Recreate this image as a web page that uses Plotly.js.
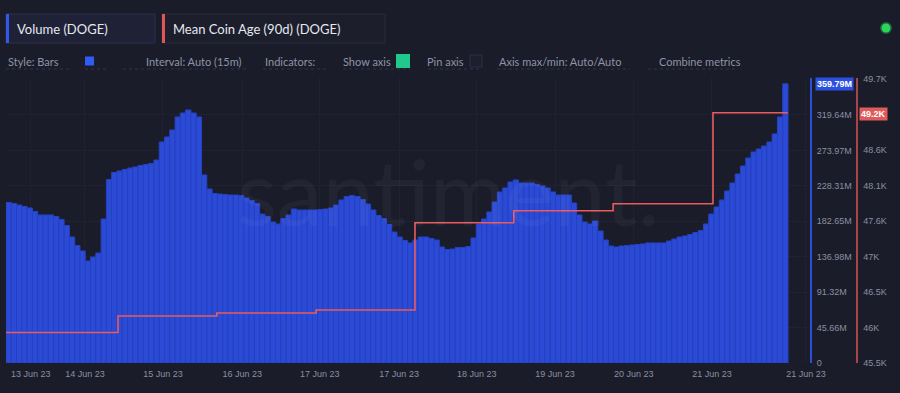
<!DOCTYPE html>
<html>
<head>
<meta charset="utf-8">
<script src="https://cdn.plot.ly/plotly-3.0.1.min.js"></script>
<style>
  html, body { margin: 0; padding: 0; background: #1b1c29; }
  #chart { width: 900px; height: 393px; }
</style>
</head>
<body>
<div id="chart"></div>
<script>
// ---- DATA ----
// Volume (DOGE), in millions, one bar per interval (left to right)
const volumeM = [
  206.9, 205.6, 203.6, 201.7, 199.8, 195.3, 190.8, 190.8, 190.8, 188.8,
  185.0, 177.2, 162.4, 151.4, 144.4, 131.5, 136.6, 141.8, 185.6, 236.5,
  245.5, 247.5, 249.4, 251.3, 252.6, 254.6, 255.8, 257.1, 261.6, 284.8,
  291.3, 300.3, 317.1, 322.2, 326.1, 322.2, 317.1, 242.3, 224.3, 218.5,
  217.8, 217.2, 216.5, 216.5, 215.9, 212.7, 209.4, 205.6, 192.0, 188.8,
  181.7, 179.2, 186.2, 190.8, 198.5, 197.2, 197.2, 197.2, 197.2, 197.8,
  198.5, 199.8, 203.6, 210.1, 214.6, 215.9, 214.6, 210.7, 204.9, 197.2,
  190.1, 186.2, 178.5, 168.8, 162.4, 157.9, 154.7, 158.5, 162.4, 162.4,
  160.5, 158.5, 149.5, 146.3, 146.9, 148.9, 148.9, 150.2, 161.1, 179.2,
  185.6, 194.6, 207.5, 220.4, 225.6, 233.3, 235.9, 232.0, 232.0, 232.0,
  230.1, 228.1, 225.6, 220.4, 216.5, 216.5, 216.5, 206.2, 190.8, 181.7,
  179.2, 183.0, 170.1, 158.5, 150.8, 149.5, 150.8, 151.4, 152.1, 152.7,
  153.4, 154.7, 154.7, 154.7, 154.7, 157.2, 159.8, 162.4, 163.7, 165.6,
  168.2, 170.8, 179.2, 192.0, 201.1, 210.1, 221.7, 232.0, 243.6, 253.9,
  264.2, 272.0, 275.8, 279.7, 284.8, 295.2, 317.1, 359.79
];
// Mean Coin Age (90d) (DOGE), in thousands; step changes at these interval positions
const coinAgeAt = [-0.5, 20.7, 39.4, 58.2, 76.9, 95.6, 114.4, 133.3, 147.5];
const coinAgeK  = [45.95, 46.195, 46.24, 46.284, 47.575, 47.752, 47.856, 49.2, 49.2];

// x tick labels (positions in interval units)
const xTickPos  = [4.2, 14.45, 29.2, 44.2, 58.9, 73.9, 88.6, 103.4, 118.3, 133.1, 150.9];
const xTickText = ['13 Jun 23','14 Jun 23','15 Jun 23','16 Jun 23','17 Jun 23','17 Jun 23',
                   '18 Jun 23','19 Jun 23','20 Jun 23','21 Jun 23','21 Jun 23'];
// left value axis (volume); the top tick sits under the last-value badge
const volTickVals = [0, 45.66, 91.32, 136.98, 182.65, 228.31, 273.97, 319.64];
const volTickText = ['0','45.66M','91.32M','136.98M','182.65M','228.31M','273.97M','319.64M'];
// right value axis (coin age); the 49.2K tick is covered by the last-value badge
const ageTickVals = [45.5, 46.025, 46.55, 47.075, 47.6, 48.125, 48.65, 49.7];
const ageTickText = ['45.5K','46K','46.5K','47K','47.6K','48.1K','48.6K','49.7K'];

const lastVolumeLabel = '359.79M';
const lastAgeLabel = '49.2K';

// ---- LAYOUT HELPERS (pixel -> paper) ----
const W = 900, H = 393;
const X = px => px / W;
const Y = py => 1 - py / H;

const bg = '#1b1c29';
const tickColor = '#8a8fa3';
const hdrFont = 'Lato, "Open Sans", sans-serif';
const axFont = '"Liberation Sans", Arial, sans-serif';

const traces = [
  {
    type: 'bar',
    x: volumeM.map((_, i) => i),
    y: volumeM,
    marker: { color: '#2b4ad6', line: { color: '#2542c2', width: 1 } },
    hoverinfo: 'skip',
    yaxis: 'y'
  },
  {
    type: 'scatter',
    mode: 'lines',
    x: coinAgeAt,
    y: coinAgeK,
    line: { color: '#ea5b5f', width: 1.6, shape: 'hv' },
    hoverinfo: 'skip',
    yaxis: 'y2'
  }
];

const annotations = [
  // watermark
  { text: 'santiment.', x: X(448), y: Y(190), xanchor: 'center', yanchor: 'middle',
    font: { family: hdrFont, size: 92, color: 'rgba(255,255,255,0.04)' } },
  // legend boxes text
  { text: 'Volume (DOGE)', x: X(15), y: Y(29), xanchor: 'left', yanchor: 'middle',
    font: { family: hdrFont, size: 13, color: '#e6e8f0' } },
  { text: 'Mean Coin Age (90d) (DOGE)', x: X(171), y: Y(29), xanchor: 'left', yanchor: 'middle',
    font: { family: hdrFont, size: 13, color: '#e6e8f0' } },
  // settings row
  ...[
    ['Style: Bars', 6], ['Interval: Auto (15m)', 144], ['Indicators:', 263], ['Show axis', 341],
    ['Pin axis', 425], ['Axis max/min: Auto/Auto', 497], ['Combine metrics', 657]
  ].map(([t, px]) => ({ text: t, x: X(px), y: Y(61), xanchor: 'left', yanchor: 'middle',
    font: { family: hdrFont, size: 11, color: '#8e93a8' } })),
  // last value badges
  { text: '<b>' + lastVolumeLabel + '</b>', x: X(834), y: Y(83.5), xanchor: 'center', yanchor: 'middle',
    bgcolor: '#2b50df', borderpad: 1, font: { family: axFont, size: 9, color: '#ffffff' } },
  { text: '<b>' + lastAgeLabel + '</b>', x: X(873.5), y: Y(114), xanchor: 'center', yanchor: 'middle',
    bgcolor: '#e05a5c', borderpad: 1, font: { family: axFont, size: 9, color: '#ffffff' } }
].map(a => Object.assign({ xref: 'paper', yref: 'paper', showarrow: false }, a));

const dotted = (x0, x1) => ({ type: 'line', xref: 'paper', yref: 'paper',
  x0: X(x0), x1: X(x1), y0: Y(69), y1: Y(69), line: { color: '#30344a', width: 1, dash: 'dot' } });

const shapes = [
  // legend boxes
  { type: 'rect', x0: X(6), x1: X(155), y0: Y(14), y1: Y(43), fillcolor: '#1f2236', line: { color: '#2b3049', width: 1 } },
  { type: 'rect', x0: X(6), x1: X(9), y0: Y(14), y1: Y(43), fillcolor: '#3058ee', line: { width: 0 } },
  { type: 'rect', x0: X(162), x1: X(385), y0: Y(14), y1: Y(43), fillcolor: '#1c1e2c', line: { color: '#262a3c', width: 1 } },
  { type: 'rect', x0: X(162), x1: X(165), y0: Y(14), y1: Y(43), fillcolor: '#e25457', line: { width: 0 } },
  // swatches
  { type: 'rect', x0: X(85), x1: X(94), y0: Y(56.5), y1: Y(65.5), fillcolor: '#2f5cf3', line: { width: 0 } },
  { type: 'rect', x0: X(396), x1: X(410), y0: Y(54), y1: Y(68), fillcolor: '#20c88d', line: { width: 0 } },
  { type: 'rect', x0: X(470), x1: X(482), y0: Y(55), y1: Y(67), fillcolor: '#1d1f2e', line: { color: '#2c3044', width: 1 } },
  // status dot
  { type: 'circle', x0: X(881.5), x1: X(890.5), y0: Y(23.5), y1: Y(32.5), fillcolor: '#2bd45a', line: { color: 'rgba(43,212,90,0.35)', width: 3 } },
  // dotted underlines
  dotted(6, 72), dotted(85, 108), dotted(123, 249), dotted(263, 327), dotted(343, 410),
  dotted(428, 482), dotted(497, 630), dotted(648, 737)
].map(s => Object.assign({ xref: 'paper', yref: 'paper', layer: 'above' }, s));

const layout = {
  width: W, height: H,
  margin: { l: 0, r: 0, t: 0, b: 0 },
  paper_bgcolor: bg, plot_bgcolor: bg,
  showlegend: false,
  bargap: 0,
  xaxis: {
    domain: [X(6), X(811)],
    range: [-0.5, 151.85],
    tickvals: xTickPos, ticktext: xTickText,
    tickfont: { family: axFont, size: 9, color: tickColor },
    ticks: '', ticklabelstandoff: 4,
    showgrid: true, gridcolor: '#202231', zeroline: false, showline: false,
    fixedrange: true
  },
  yaxis: {
    domain: [Y(363), Y(78)],
    range: [0, 367.3],
    side: 'right', anchor: 'free', position: X(811),
    tickvals: volTickVals, ticktext: volTickText,
    tickfont: { family: axFont, size: 9, color: tickColor },
    ticks: '', ticklabelstandoff: 3,
    showgrid: true, gridcolor: '#202231', zeroline: false,
    showline: true, linecolor: '#2d4fd8', linewidth: 2,
    fixedrange: true
  },
  yaxis2: {
    domain: [Y(363), Y(78)],
    range: [45.5, 49.715],
    overlaying: 'y',
    side: 'right', anchor: 'free', position: X(856),
    tickvals: ageTickVals, ticktext: ageTickText,
    tickfont: { family: axFont, size: 9, color: tickColor },
    ticks: '', ticklabelstandoff: 4,
    showgrid: false, zeroline: false,
    showline: true, linecolor: '#a8454a', linewidth: 1.5,
    fixedrange: true
  },
  annotations: annotations,
  shapes: shapes
};

Plotly.newPlot('chart', traces, layout, { displayModeBar: false, staticPlot: true });
</script>
</body>
</html>
